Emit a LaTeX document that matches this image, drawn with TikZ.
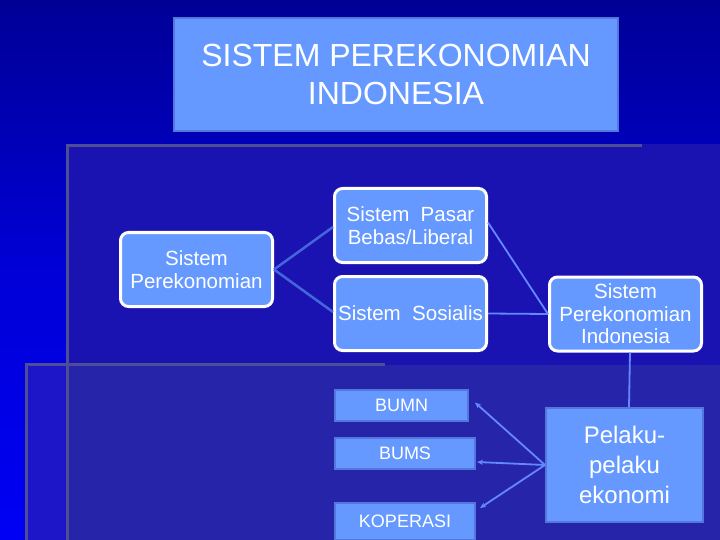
\documentclass[tikz,border=0pt]{standalone}
\usepackage{fontspec}
\setmainfont{Liberation Sans}
\usetikzlibrary{arrows.meta,calc}
\definecolor{bgtop}{RGB}{0,0,150}
\definecolor{bgmid}{RGB}{0,0,215}
\definecolor{bgbot}{RGB}{0,0,245}
\definecolor{panelA}{RGB}{26,19,178}
\definecolor{panelB}{RGB}{38,37,170}
\definecolor{stripB}{RGB}{28,22,200}
\definecolor{edgegrey}{RGB}{78,78,150}
\definecolor{boxfill}{RGB}{102,153,255}
\definecolor{boxedge}{RGB}{85,119,221}
\definecolor{lineA}{RGB}{68,102,221}
\definecolor{lineB}{RGB}{102,136,255}
\tikzset{
  titlebox/.style={draw=boxedge, line width=2pt, fill=boxfill, text=white, align=center,
    minimum width=444pt, minimum height=113pt, inner sep=0pt,
    font=\fontsize{32}{38}\selectfont},
  roundbox/.style={draw=white, line width=3pt, fill=boxfill, text=white, align=center,
    rounded corners=8pt, minimum width=152pt, minimum height=74pt, inner sep=0pt,
    font=\fontsize{20.5}{22.5}\selectfont},
  flatbox/.style={draw=boxedge, line width=2pt, fill=boxfill, text=white, align=center,
    inner sep=0pt, font=\fontsize{18}{20}\selectfont},
  bigbox/.style={draw=boxedge, line width=2pt, fill=boxfill, text=white, align=center,
    inner sep=0pt, font=\fontsize{24}{30}\selectfont},
  linkA/.style={draw=lineA, line width=2.5pt},
  linkB/.style={draw=lineB, line width=1.8pt},
  tipB/.style={draw=lineB, line width=1.8pt, -{Stealth[length=6pt,width=5pt]}},
}
\begin{document}
\begin{tikzpicture}[x=1pt,y=-1pt]
\useasboundingbox (0,0) rectangle (720,540);
% background
\shade[top color=bgtop, bottom color=bgbot, middle color=bgmid] (0,0) rectangle (720,540);
\fill[panelA] (66,144) rectangle (720,365);
\fill[stripB] (25,363) rectangle (66,540);
\fill[panelB] (66,365) rectangle (720,540);
\draw[edgegrey, line width=3pt] (66,145.5) -- (642,145.5);
\draw[edgegrey, line width=3pt] (67.5,144) -- (67.5,540);
\draw[edgegrey, line width=3pt] (25,364.5) -- (385,364.5);
\draw[edgegrey, line width=3pt] (26.5,363) -- (26.5,540);

% nodes
\node[titlebox] (title) at (396,74.5) {SISTEM PEREKONOMIAN\\INDONESIA};
\node[roundbox] (sp) at (196.5,269.5) {Sistem\\Perekonomian};
\node[roundbox] (pasar) at (410.5,225.5) {Sistem\ \ Pasar\\Bebas/Liberal};
\node[roundbox] (sos) at (410.5,313.5) {Sistem\ \ Sosialis};
\node[roundbox] (indo) at (625.5,314) {Sistem\\Perekonomian\\Indonesia};
\node[flatbox, minimum width=133pt, minimum height=31pt] (bumn) at (401.5,405.5) {BUMN};
\node[flatbox, minimum width=140pt, minimum height=31pt] (bums) at (405,453.5) {BUMS};
\node[flatbox, minimum width=140pt, minimum height=37pt] (kop) at (405,521.5) {KOPERASI};
\node[bigbox, minimum width=157pt, minimum height=114pt] (pel) at (624.5,465) {Pelaku-\\pelaku\\ekonomi};

% connectors
\draw[linkA] (sp.east) -- ([yshift=-1.5pt]pasar.west);
\draw[linkA] (sp.east) -- ([yshift=1.5pt]sos.west);
\draw[linkB] ([yshift=3pt]pasar.east) -- (indo.west);
\draw[linkB] (sos.east) -- (indo.west);
\draw[linkB] ([xshift=4.5pt]indo.south) -- ([xshift=4.5pt]pel.north);
\draw[tipB] (pel.west) -- ([xshift=6pt,yshift=3pt]bumn.east);
\draw[tipB] (pel.west) -- ([xshift=1pt,yshift=-8.5pt]bums.east);
\draw[tipB] (pel.west) -- ([xshift=4pt,yshift=13.5pt]kop.east);
\end{tikzpicture}
\end{document}
